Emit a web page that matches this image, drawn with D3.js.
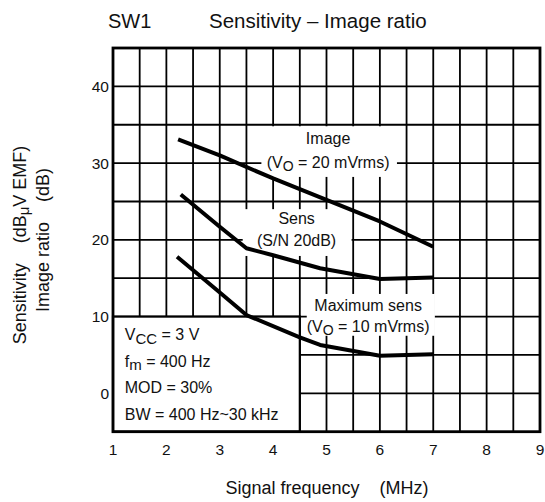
<!DOCTYPE html>
<html>
<head>
<meta charset="utf-8">
<script src="https://cdn.jsdelivr.net/npm/d3@7"></script>
<style>
  body { margin: 0; background: #fff; }
  svg text { font-family: "Liberation Sans", Arial, sans-serif; fill: #111; white-space: pre; }
</style>
</head>
<body>
<div id="chart"></div>
<script>
// Curves (MHz, dB)
const imageCurve = [[2.22, 33.1], [3, 31.0], [4, 28.0], [5, 25.2], [6, 22.4], [7, 19.1]];
const sensCurve = [[2.27, 25.9], [3, 21.7], [3.5, 18.9], [4, 18.0], [4.88, 16.3], [6, 14.9], [7, 15.1]];
const maxSensCurve = [[2.2, 17.8], [2.94, 13.5], [3.5, 10.2], [4.5, 7.3], [4.88, 6.3], [6, 4.9], [7, 5.1]];

const xTicks = [1, 2, 3, 4, 5, 6, 7, 8, 9];
const yTicks = [0, 10, 20, 30, 40];
const conditions = [
  { main: 'V', sub: 'CC', rest: ' = 3 V' },
  { main: 'f', sub: 'm', rest: ' = 400 Hz' },
  { main: 'MOD = 30%', sub: '', rest: '' },
  { main: 'BW = 400 Hz~30 kHz', sub: '', rest: '' },
];

const width = 545, height = 502;
const x = d3.scaleLinear().domain([1, 9]).range([113, 540]);
const y = d3.scaleLinear().domain([-5, 45]).range([431.7, 48]);

const svg = d3.select('#chart').append('svg')
  .attr('width', width)
  .attr('height', height);

// grid
const vLines = d3.range(1.5, 9, 0.5);
const hLines = d3.range(0, 45, 5);
svg.append('g').selectAll('line')
  .data(vLines)
  .enter().append('line')
  .attr('x1', d => x(d)).attr('x2', d => x(d))
  .attr('y1', y(45)).attr('y2', y(-5))
  .attr('stroke', '#000').attr('stroke-width', 1.8);
svg.append('g').selectAll('line')
  .data(hLines)
  .enter().append('line')
  .attr('x1', x(1)).attr('x2', x(9))
  .attr('y1', d => y(d)).attr('y2', d => y(d))
  .attr('stroke', '#000').attr('stroke-width', 1.8);

// white boxes behind the curve labels
const labelBoxes = [
  [3.78, 6.32, 28.2, 34.8],
  [3.43, 5.47, 17.9, 24.0],
  [4.63, 7.03, 7.5, 12.95],
];
svg.append('g').selectAll('rect')
  .data(labelBoxes)
  .enter().append('rect')
  .attr('x', d => x(d[0]))
  .attr('y', d => y(d[3]))
  .attr('width', d => x(d[1]) - x(d[0]))
  .attr('height', d => y(d[2]) - y(d[3]))
  .attr('fill', '#fff');

// conditions box
svg.append('rect')
  .attr('x', x(1)).attr('y', y(10))
  .attr('width', x(4.5) - x(1)).attr('height', y(-5) - y(10))
  .attr('fill', '#fff').attr('stroke', '#000').attr('stroke-width', 2.2);

// frame
svg.append('rect')
  .attr('x', x(1)).attr('y', y(45))
  .attr('width', x(9) - x(1)).attr('height', y(-5) - y(45))
  .attr('fill', 'none').attr('stroke', '#000').attr('stroke-width', 2.8);

// curves
const line = d3.line().x(d => x(d[0])).y(d => y(d[1]));
svg.append('g').selectAll('path')
  .data([imageCurve, sensCurve, maxSensCurve])
  .enter().append('path')
  .attr('d', line)
  .attr('fill', 'none')
  .attr('stroke', '#000')
  .attr('stroke-width', 4)
  .attr('stroke-linejoin', 'round');

// axes tick labels
svg.append('g').selectAll('text')
  .data(yTicks)
  .enter().append('text')
  .attr('x', 109).attr('y', d => y(d) + 5.5)
  .attr('text-anchor', 'end')
  .style('font-size', '15.5px')
  .text(d => d);
svg.append('g').selectAll('text')
  .data(xTicks)
  .enter().append('text')
  .attr('x', d => x(d)).attr('y', 455)
  .attr('text-anchor', 'middle')
  .style('font-size', '15.5px')
  .text(d => d);

// titles
svg.append('text').attr('x', 108).attr('y', 28).style('font-size', '20px').text('SW1');
svg.append('text').attr('x', 209).attr('y', 28).style('font-size', '20.5px').text('Sensitivity – Image ratio');
svg.append('text').attr('x', 327).attr('y', 494).attr('text-anchor', 'middle')
  .style('font-size', '18px').text('Signal frequency    (MHz)');

const yt1 = svg.append('text')
  .attr('transform', 'translate(25.5,245) rotate(-90)')
  .attr('text-anchor', 'middle')
  .style('font-size', '18px');
yt1.append('tspan').text('Sensitivity    (dB');
yt1.append('tspan').attr('dy', 3).style('font-size', '15px').text('μ');
yt1.append('tspan').attr('dy', -3).text('V EMF)');
svg.append('text')
  .attr('transform', 'translate(48.5,240) rotate(-90)')
  .attr('text-anchor', 'middle')
  .style('font-size', '18px')
  .text('Image ratio    (dB)');

// curve labels
function voLabel(cx, base, val) {
  const t = svg.append('text').attr('x', x(cx)).attr('y', y(base))
    .attr('text-anchor', 'middle').style('font-size', '16px');
  t.append('tspan').text('(V');
  t.append('tspan').attr('dy', 3).style('font-size', '14px').text('O');
  t.append('tspan').attr('dy', -3).text(` = ${val} mVrms)`);
}
svg.append('text').attr('x', x(5.03)).attr('y', y(32.5)).attr('text-anchor', 'middle')
  .style('font-size', '16px').text('Image');
voLabel(5.03, 29.4, 20);
svg.append('text').attr('x', x(4.44)).attr('y', y(22.1)).attr('text-anchor', 'middle')
  .style('font-size', '16px').text('Sens');
svg.append('text').attr('x', x(4.44)).attr('y', y(19.2)).attr('text-anchor', 'middle')
  .style('font-size', '16px').text('(S/N 20dB)');
svg.append('text').attr('x', x(5.78)).attr('y', y(10.75)).attr('text-anchor', 'middle')
  .style('font-size', '16px').text('Maximum sens');
voLabel(5.78, 8.0, 10);

// conditions text
const condBase = [6.9, 3.45, 0, -3.5];
conditions.forEach((c, i) => {
  const t = svg.append('text').attr('x', x(1.22)).attr('y', y(condBase[i]))
    .style('font-size', '16px');
  t.append('tspan').text(c.main);
  if (c.sub) {
    t.append('tspan').attr('dy', 3.5).style('font-size', '15px').text(c.sub);
    t.append('tspan').attr('dy', -3.5).text(c.rest);
  }
});
</script>
</body>
</html>
